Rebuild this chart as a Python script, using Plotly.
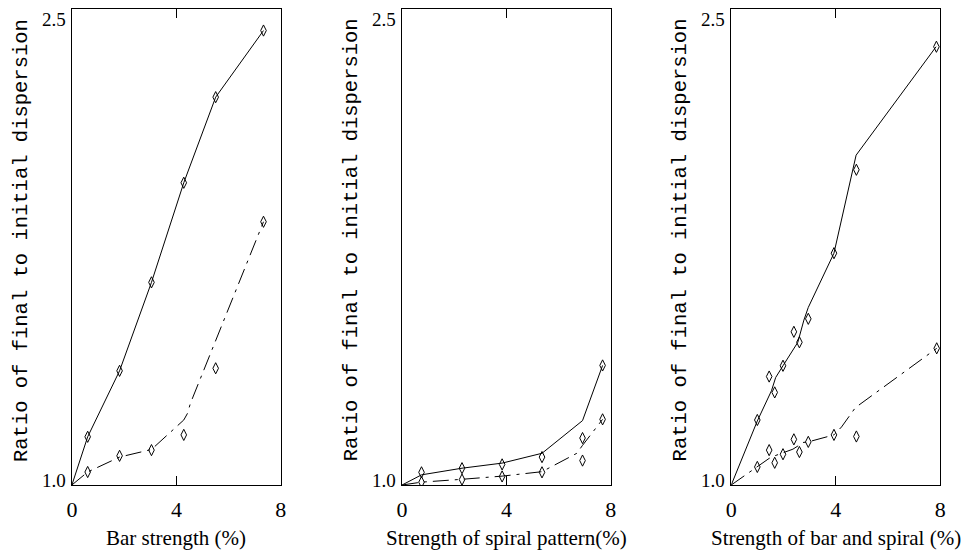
import plotly.graph_objects as go

# ---------------- data ----------------
# Panel 1: bar strength
p1_line_solid_x = [0, 0.605, 1.826, 3.047, 4.283, 5.505, 7.335]
p1_line_solid_y = [1.0, 1.152, 1.360, 1.639, 1.953, 2.223, 2.433]
p1_mark_solid_x = [0.605, 1.826, 3.047, 4.283, 5.505, 7.335]
p1_mark_solid_y = [1.152, 1.360, 1.639, 1.953, 2.223, 2.433]
p1_line_dash_x = [0, 0.605, 1.826, 3.047, 4.283, 4.42, 4.54, 7.335]
p1_line_dash_y = [1.0, 1.041, 1.088, 1.112, 1.205, 1.225, 1.258, 1.830]
p1_mark_dash_x = [0.605, 1.826, 3.047, 4.283, 5.505, 7.335]
p1_mark_dash_y = [1.041, 1.092, 1.110, 1.158, 1.368, 1.830]

# Panel 2: spiral pattern strength
p2_line_solid_x = [0, 0.746, 2.298, 3.836, 5.365, 6.918, 7.687]
p2_line_solid_y = [1.0, 1.032, 1.053, 1.069, 1.100, 1.203, 1.377]
p2_mark_solid_x = [0.746, 2.298, 3.836, 5.365, 6.918, 7.687]
p2_mark_solid_y = [1.040, 1.053, 1.065, 1.088, 1.148, 1.377]
p2_line_dash_x = [0, 0.746, 2.298, 3.836, 5.365, 6.70, 6.918, 7.687]
p2_line_dash_y = [1.0, 1.009, 1.018, 1.028, 1.042, 1.100, 1.125, 1.207]
p2_mark_dash_x = [0.746, 2.298, 3.836, 5.365, 6.918, 7.687]
p2_mark_dash_y = [1.009, 1.017, 1.027, 1.040, 1.077, 1.207]

# Panel 3: bar and spiral
p3_line_solid_x = [0, 0.998, 1.538, 1.70, 1.98, 2.547, 2.78, 2.948, 3.93, 4.777, 7.838]
p3_line_solid_y = [1.0, 1.202, 1.297, 1.339, 1.376, 1.450, 1.52, 1.560, 1.731, 2.040, 2.382]
p3_mark_solid_x = [0.998, 1.451, 1.663, 1.98, 2.396, 2.608, 2.948, 3.93, 4.788, 7.85]
p3_mark_solid_y = [1.205, 1.342, 1.292, 1.376, 1.483, 1.450, 1.524, 1.731, 1.994, 2.382]
p3_line_dash_x = [0, 0.998, 1.451, 1.663, 1.98, 2.36, 2.55, 2.74, 2.948, 3.93, 4.22, 4.75, 7.861]
p3_line_dash_y = [1.0, 1.057, 1.084, 1.092, 1.102, 1.113, 1.123, 1.134, 1.136, 1.158, 1.183, 1.244, 1.431]
p3_mark_dash_x = [0.998, 1.451, 1.663, 1.98, 2.396, 2.608, 2.948, 3.93, 4.788, 7.861]
p3_mark_dash_y = [1.057, 1.110, 1.070, 1.097, 1.144, 1.104, 1.136, 1.158, 1.153, 1.431]

x_ticks = [0, 4, 8]
x_tick_text = ["0", "4", "8"]
y_min, y_max = 1.0, 2.5
y_tick_text = ["1.0", "2.5"]
x_titles = ["Bar strength (%)", "Strength of spiral pattern(%)", "Strength of bar and spiral (%)"]
y_title = "Ratio of final to initial dispersion"

panels = [
    (p1_line_solid_x, p1_line_solid_y, p1_mark_solid_x, p1_mark_solid_y,
     p1_line_dash_x, p1_line_dash_y, p1_mark_dash_x, p1_mark_dash_y),
    (p2_line_solid_x, p2_line_solid_y, p2_mark_solid_x, p2_mark_solid_y,
     p2_line_dash_x, p2_line_dash_y, p2_mark_dash_x, p2_mark_dash_y),
    (p3_line_solid_x, p3_line_solid_y, p3_mark_solid_x, p3_mark_solid_y,
     p3_line_dash_x, p3_line_dash_y, p3_mark_dash_x, p3_mark_dash_y),
]

# ---------------- figure ----------------
W, H = 973, 552
x_domains_px = [(66.7, 278.3), (401.0, 612.3), (734.3, 946.0)]
y_top_px, y_bot_px = 9.3, 485.0
y_domain = [(H - y_bot_px) / H, (H - y_top_px) / H]

serif = "Liberation Serif, Times New Roman, serif"
mono = "Liberation Mono, Courier New, monospace"
dash_pattern = "16px,6px,3px,6px"

fig = go.Figure()
annotations = []
layout_axes = {}

for i, (lsx, lsy, msx, msy, ldx, ldy, mdx, mdy) in enumerate(panels):
    n = "" if i == 0 else str(i + 1)
    xa, ya = "x" + n, "y" + n
    fig.add_trace(go.Scatter(x=lsx, y=lsy, mode="lines", xaxis=xa, yaxis=ya,
                             line=dict(color="black", width=1)))
    fig.add_trace(go.Scatter(x=ldx, y=ldy, mode="lines", xaxis=xa, yaxis=ya,
                             line=dict(color="black", width=1, dash=dash_pattern)))
    for mx, my in ((msx, msy), (mdx, mdy)):
        fig.add_trace(go.Scatter(x=mx, y=my, mode="markers", xaxis=xa, yaxis=ya,
                                 marker=dict(symbol="diamond-tall-open", size=8,
                                             color="black", line=dict(width=1, color="black"))))
    x0, x1 = x_domains_px[i]
    layout_axes["xaxis" + n] = dict(
        domain=[x0 / W, x1 / W], range=[0, 8], anchor=ya,
        tickvals=x_ticks, ticktext=x_tick_text, ticks="inside", ticklen=9,
        tickcolor="black", tickwidth=1, showline=True, linecolor="black",
        linewidth=1.2, mirror="ticks", showgrid=False, zeroline=False,
        ticklabelstandoff=4,
        tickfont=dict(family=serif, size=22, color="black"), fixedrange=True,
    )
    layout_axes["yaxis" + n] = dict(
        domain=y_domain, range=[y_min, y_max], anchor=xa,
        showline=True, linecolor="black", linewidth=1.2, mirror=True,
        ticks="", showticklabels=False, showgrid=False, zeroline=False, fixedrange=True,
    )
    # y tick labels
    annotations.append(dict(xref=xa + " domain", yref=ya, x=0, y=y_min, text=y_tick_text[0],
                            showarrow=False, xanchor="right", yanchor="middle",
                            xshift=-4, yshift=4, font=dict(family=serif, size=19, color="black")))
    annotations.append(dict(xref=xa + " domain", yref=ya, x=0, y=y_max, text=y_tick_text[1],
                            showarrow=False, xanchor="right", yanchor="middle",
                            xshift=-4, yshift=-10, font=dict(family=serif, size=19, color="black")))
    # y title
    annotations.append(dict(xref=xa + " domain", yref=ya + " domain", x=0, y=0.5, text=y_title,
                            showarrow=False, textangle=-90, xanchor="center", yanchor="middle",
                            xshift=-51, yshift=7, font=dict(family=mono, size=20.5, color="black")))
    # x title
    annotations.append(dict(xref=xa + " domain", yref=ya + " domain", x=0.5, y=0, text=x_titles[i],
                            showarrow=False, xanchor="center", yanchor="middle",
                            yshift=-53, font=dict(family=serif, size=21, color="black")))

fig.update_layout(
    width=W, height=H, margin=dict(l=0, r=0, t=0, b=0),
    paper_bgcolor="white", plot_bgcolor="white", showlegend=False,
    annotations=annotations, **layout_axes,
)

fig.write_html("out.html", config={"displayModeBar": False},
               post_script="document.body.style.margin='0';document.body.style.padding='0';")
